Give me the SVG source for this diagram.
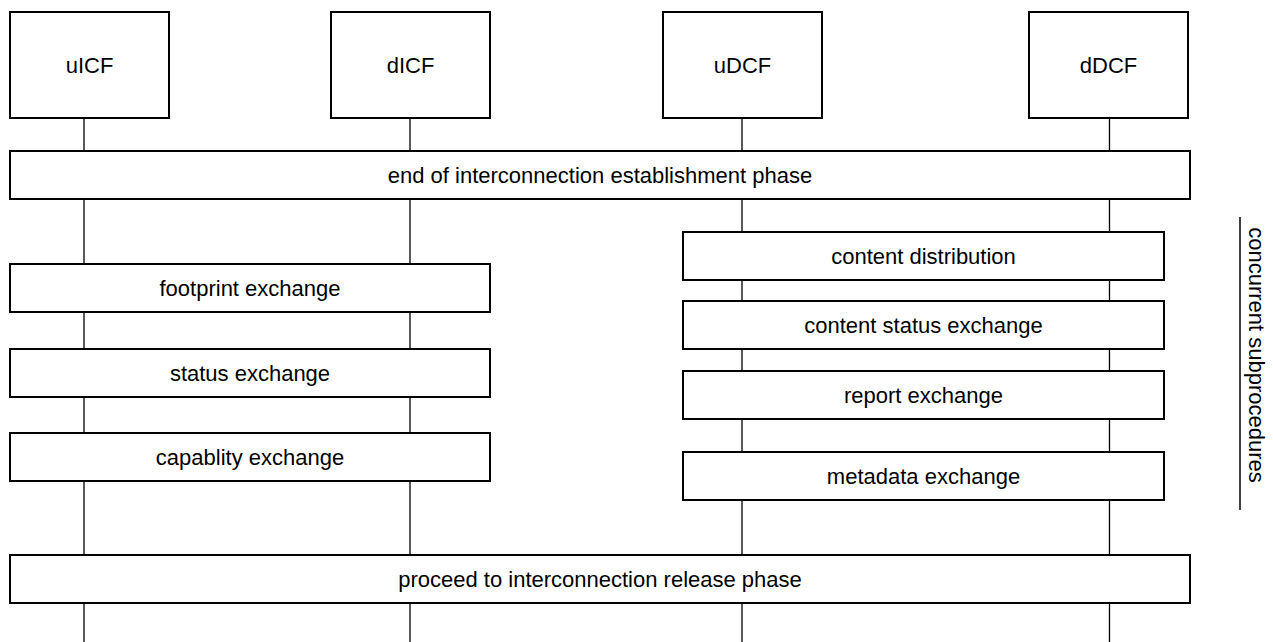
<svg xmlns="http://www.w3.org/2000/svg" width="1273" height="642" viewBox="0 0 1273 642">
<style>
.box{fill:#fff;stroke:#000;stroke-width:2}
.life{stroke:#000;stroke-width:1.3;fill:none}
.t{font-family:"Liberation Sans",Arial,sans-serif;font-size:22px;fill:#000;text-anchor:middle}
</style>
<rect x="0" y="0" width="1273" height="642" fill="#fff"/>
<g id="connectors">
<line class="life" x1="84" y1="118" x2="84" y2="642"/>
<line class="life" x1="410" y1="118" x2="410" y2="642"/>
<line class="life" x1="742" y1="118" x2="742" y2="642"/>
<line class="life" x1="1109.5" y1="118" x2="1109.5" y2="642"/>
</g>
<g id="uICF"><rect class="box" x="10" y="12" width="159" height="106"/><text class="t" x="89.5" y="72.5">uICF</text></g>
<g id="dICF"><rect class="box" x="331" y="12" width="159" height="106"/><text class="t" x="410.5" y="72.5">dICF</text></g>
<g id="uDCF"><rect class="box" x="663" y="12" width="159" height="106"/><text class="t" x="742.5" y="72.5">uDCF</text></g>
<g id="dDCF"><rect class="box" x="1029" y="12" width="159" height="106"/><text class="t" x="1108.5" y="72.5">dDCF</text></g>
<g id="establishment"><rect class="box" x="10" y="151" width="1180" height="48"/><text class="t" x="600" y="182.5">end of interconnection establishment phase</text></g>
<g id="footprint"><rect class="box" x="10" y="264" width="480" height="48"/><text class="t" x="250" y="295.5">footprint exchange</text></g>
<g id="status"><rect class="box" x="10" y="349" width="480" height="48"/><text class="t" x="250" y="380.5">status exchange</text></g>
<g id="capablity"><rect class="box" x="10" y="433" width="480" height="48"/><text class="t" x="250" y="464.5">capablity exchange</text></g>
<g id="content-distribution"><rect class="box" x="683" y="232" width="481" height="48"/><text class="t" x="923.5" y="263.5">content distribution</text></g>
<g id="content-status"><rect class="box" x="683" y="301" width="481" height="48"/><text class="t" x="923.5" y="332.5">content status exchange</text></g>
<g id="report"><rect class="box" x="683" y="371" width="481" height="48"/><text class="t" x="923.5" y="402.5">report exchange</text></g>
<g id="metadata"><rect class="box" x="683" y="452" width="481" height="48"/><text class="t" x="923.5" y="483.5">metadata exchange</text></g>
<g id="release"><rect class="box" x="10" y="555" width="1180" height="48"/><text class="t" x="600" y="586.5">proceed to interconnection release phase</text></g>
<g id="concurrent">
<line x1="1240" y1="217" x2="1240" y2="510" stroke="#000" stroke-width="1.5"/>
<text class="t" transform="translate(1249,355) rotate(90)" x="0" y="0">concurrent subprocedures</text>
</g>
</svg>
